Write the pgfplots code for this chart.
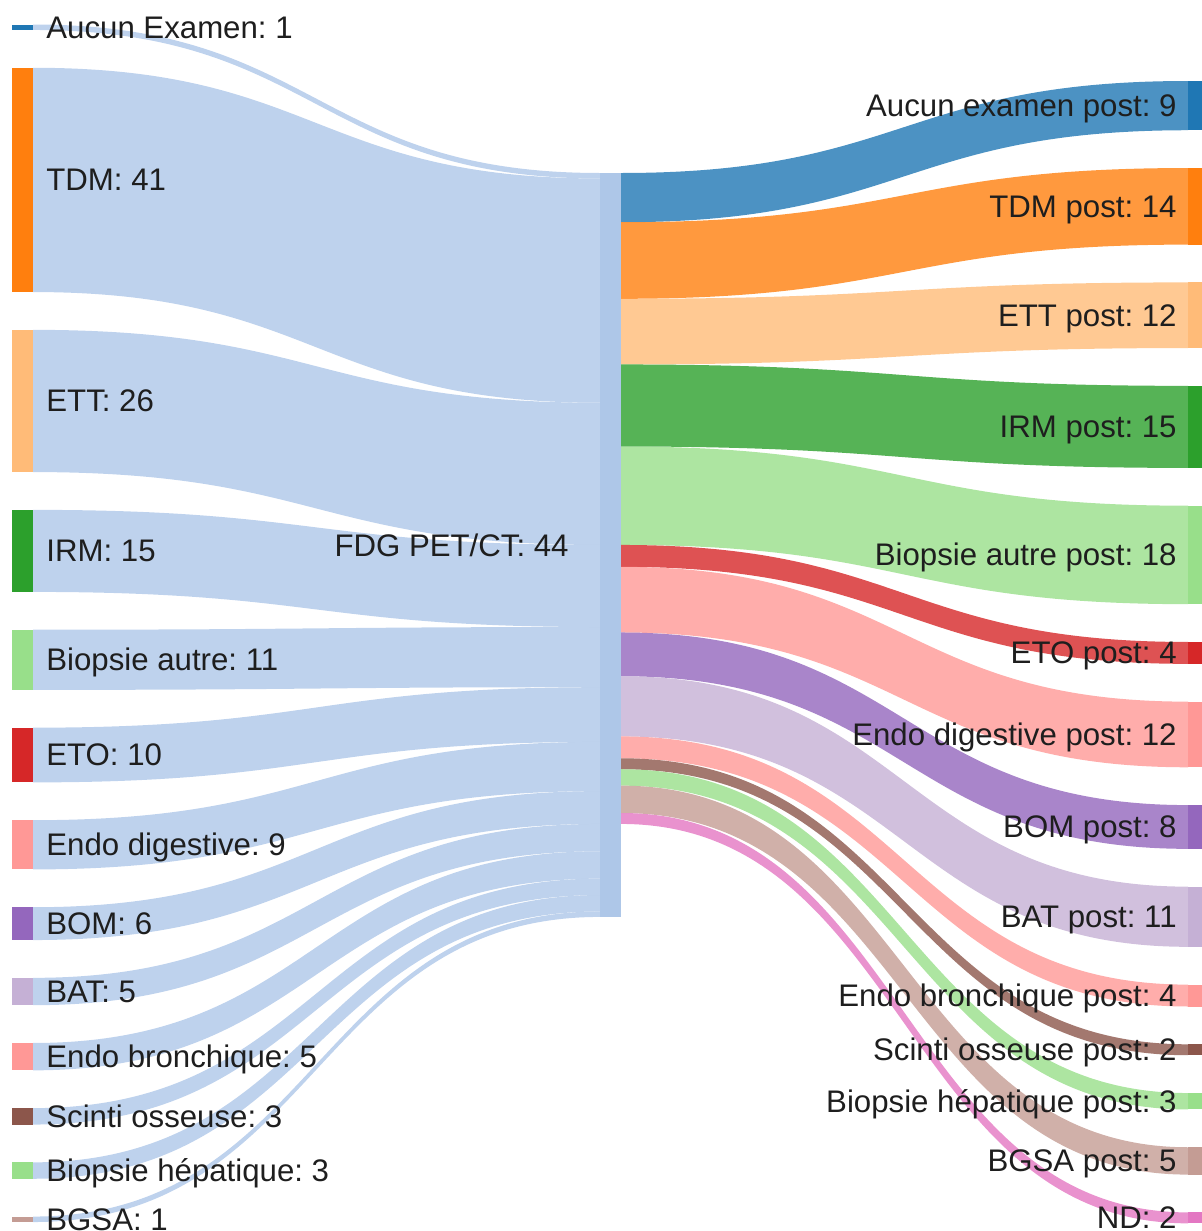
\documentclass[border=0pt]{standalone}
\usepackage{pgfplots}
\pgfplotsset{compat=1.18}
\usepackage{fontspec}
\setmainfont{Liberation Sans}
\frenchspacing

\definecolor{cBlue}{HTML}{1F77B4}
\definecolor{cMid}{HTML}{AEC7E8}
\definecolor{cOrange}{HTML}{FF7F0E}
\definecolor{cLOrange}{HTML}{FFBB78}
\definecolor{cGreen}{HTML}{2CA02C}
\definecolor{cLGreen}{HTML}{98DF8A}
\definecolor{cRed}{HTML}{D62728}
\definecolor{cPink}{HTML}{FF9896}
\definecolor{cPurple}{HTML}{9467BD}
\definecolor{cLPurple}{HTML}{C5B0D5}
\definecolor{cBrown}{HTML}{8C564B}
\definecolor{cLBrown}{HTML}{C49C94}
\definecolor{cMagenta}{HTML}{E377C2}
\definecolor{labink}{HTML}{1E1E1E}

\tikzset{lab/.style={font=\fontsize{15.6}{18}\selectfont, text=labink, inner sep=0pt}}

% pixels per unit of flow, gap between nodes (axis units = pixels)
\def\sc{5.47}
\def\gp{37.8}

\makeatletter
\def\links{}\def\nodes{}\def\labels{}
\newcommand\pushcmd[2]{\expandafter\g@addto@macro\expandafter#1\expandafter{#2}}
\makeatother

% ---- left column -> FDG PET/CT
\xdef\yL{24.5}\xdef\yM{173}
\foreach \nm/\vv/\cc in {Aucun Examen/1/cBlue, TDM/41/cOrange, ETT/26/cLOrange,
  IRM/15/cGreen, Biopsie autre/11/cLGreen, ETO/10/cRed, Endo digestive/9/cPink,
  BOM/6/cPurple, BAT/5/cLPurple, Endo bronchique/5/cPink, Scinti osseuse/3/cBrown,
  Biopsie hépatique/3/cLGreen, BGSA/1/cLBrown}{%
  \pgfmathsetmacro\hh{\vv*\sc}%
  \pgfmathsetmacro\yb{\yL+\hh}%
  \pgfmathsetmacro\ymb{\yM+\hh}%
  \pgfmathsetmacro\yc{\yL+\hh/2+10.9}%
  \edef\tmp{\noexpand\fill[cMid,fill opacity=0.8] (axis cs:33,\yL) .. controls (axis cs:316.5,\yL) and (axis cs:316.5,\yM) .. (axis cs:600,\yM) -- (axis cs:600,\ymb) .. controls (axis cs:316.5,\ymb) and (axis cs:316.5,\yb) .. (axis cs:33,\yb) -- cycle;}%
  \pushcmd\links\tmp
  \edef\tmp{\noexpand\fill[\cc] (axis cs:12,\yL) rectangle (axis cs:33,\yb);}%
  \pushcmd\nodes\tmp
  \edef\tmp{\noexpand\node[lab,anchor=base west] at (axis cs:46,\yc) {\nm: \vv};}%
  \pushcmd\labels\tmp
  \pgfmathsetmacro\tmpy{\yb+\gp}\xdef\yL{\tmpy}%
  \xdef\yM{\ymb}%
}
\xdef\ymidbot{\yM}

% ---- FDG PET/CT -> right column
\xdef\yR{81}\xdef\yM{173}
\foreach \nm/\vv/\cc in {Aucun examen post/9/cBlue, TDM post/14/cOrange,
  ETT post/12/cLOrange, IRM post/15/cGreen, Biopsie autre post/18/cLGreen,
  ETO post/4/cRed, Endo digestive post/12/cPink, BOM post/8/cPurple,
  BAT post/11/cLPurple, Endo bronchique post/4/cPink, Scinti osseuse post/2/cBrown,
  Biopsie hépatique post/3/cLGreen, BGSA post/5/cLBrown, ND/2/cMagenta}{%
  \pgfmathsetmacro\hh{\vv*\sc}%
  \pgfmathsetmacro\yb{\yR+\hh}%
  \pgfmathsetmacro\ymb{\yM+\hh}%
  \pgfmathsetmacro\yc{\yR+\hh/2+10.9}%
  \edef\tmp{\noexpand\fill[\cc,fill opacity=0.8] (axis cs:621,\yM) .. controls (axis cs:904.5,\yM) and (axis cs:904.5,\yR) .. (axis cs:1188,\yR) -- (axis cs:1188,\yb) .. controls (axis cs:904.5,\yb) and (axis cs:904.5,\ymb) .. (axis cs:621,\ymb) -- cycle;}%
  \pushcmd\links\tmp
  \edef\tmp{\noexpand\fill[\cc] (axis cs:1188,\yR) rectangle (axis cs:1209,\yb);}%
  \pushcmd\nodes\tmp
  \edef\tmp{\noexpand\node[lab,anchor=base east] at (axis cs:1177,\yc) {\nm: \vv};}%
  \pushcmd\labels\tmp
  \pgfmathsetmacro\tmpy{\yb+\gp}\xdef\yR{\tmpy}%
  \xdef\yM{\ymb}%
}
\pgfmathsetmacro\ymidc{(173+\ymidbot)/2+12}

\begin{document}
\begin{tikzpicture}
\begin{axis}[at={(0,0)}, anchor=south west, width=600.5pt, height=615.5pt,
  scale only axis, xmin=0, xmax=1201, ymin=0, ymax=1231, y dir=reverse,
  hide axis, clip=false]
  \addplot[draw=none] coordinates {(0,0) (1201,1231)};
  \links
  \nodes
  \fill[cMid] (axis cs:600,173) rectangle (axis cs:621,\ymidbot);
  \labels
  \node[lab,anchor=base east] at (axis cs:569,\ymidc) {FDG PET/CT: 44};
\end{axis}
\pgfresetboundingbox
\path[use as bounding box] (0,0) rectangle (600.5pt,615.5pt);
\end{tikzpicture}
\end{document}
